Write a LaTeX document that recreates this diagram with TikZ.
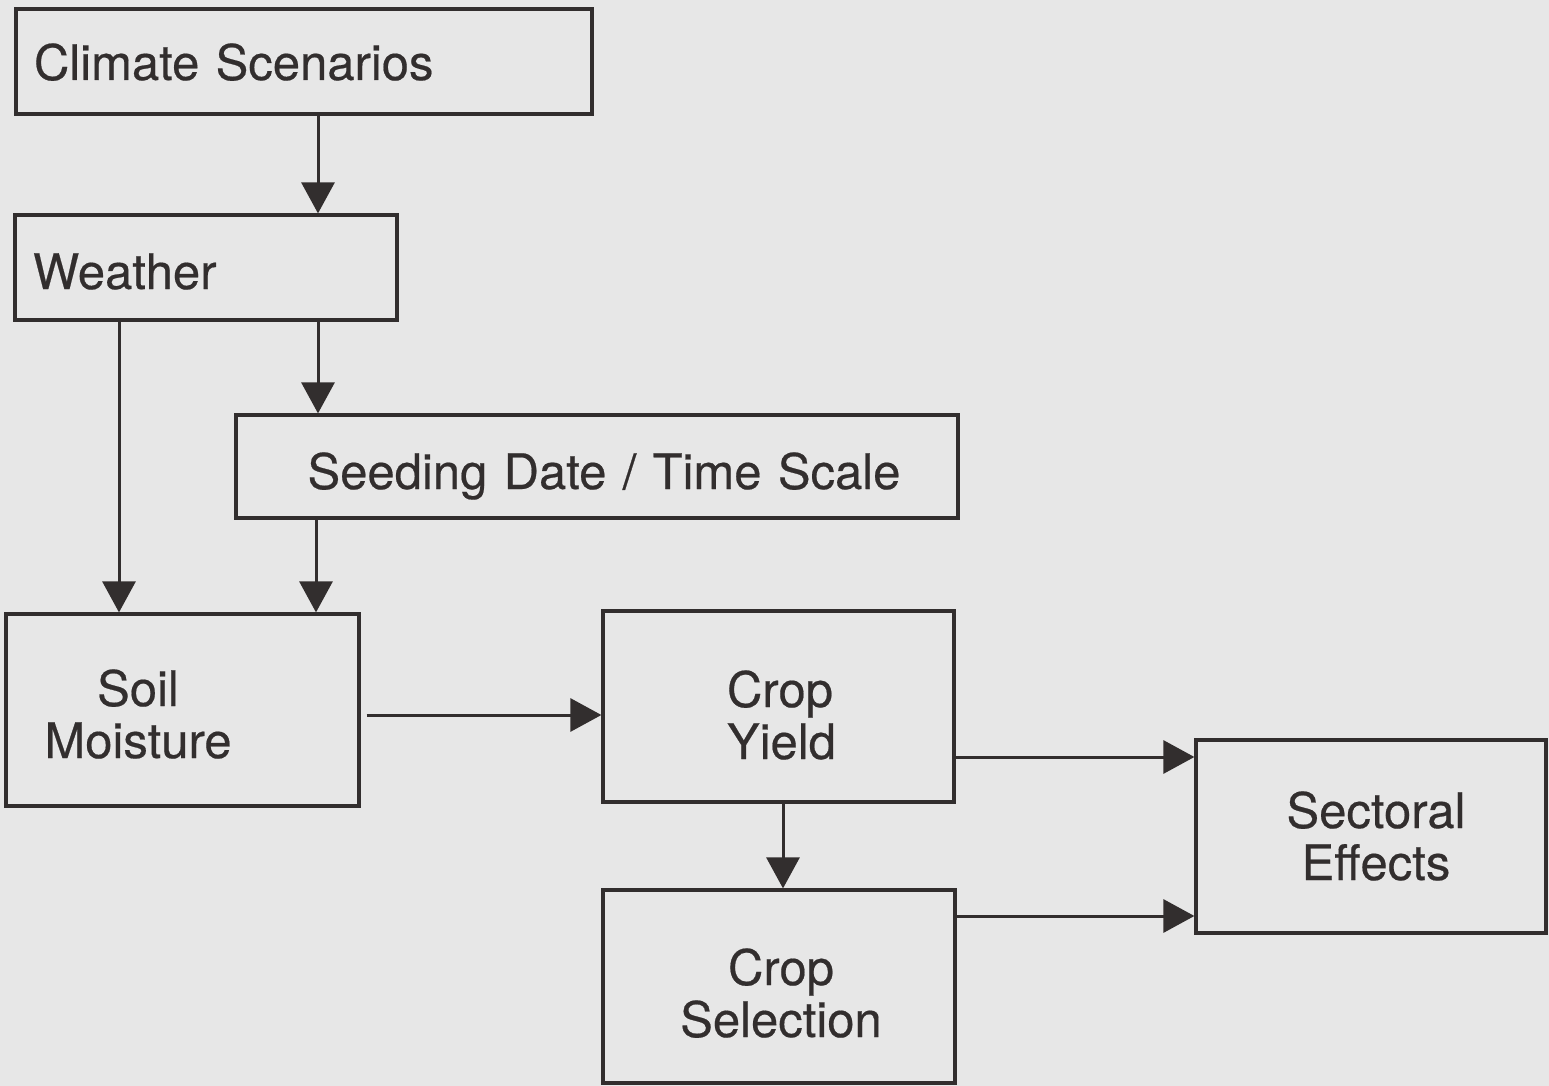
\documentclass[tikz,border=0pt]{standalone}
\usepackage{fontspec}
\setmainfont{TeX Gyre Heros}
\newfontfamily\heavyfont{TeX Gyre Heros}[FakeBold=0.4]
\usetikzlibrary{arrows.meta}
\definecolor{bg}{RGB}{231,231,231}
\definecolor{ink}{RGB}{50,46,46}
\begin{document}
\begin{tikzpicture}[x=0.5pt,y=-0.5pt,
  box/.style={draw=ink, fill=bg, line width=1.6pt, inner sep=0pt, text=ink,
    font=\heavyfont\fontsize{24.5}{26}\selectfont},
  arr/.style={draw=ink, line width=1.5pt, -{Triangle[length=15.5pt,width=16.5pt]}}]
\fill[bg] (0,0) rectangle (1549,1086);
\useasboundingbox (0,0) rectangle (1549,1086);

\node[box, minimum width=288pt, minimum height=52.5pt, text width=270pt, align=left,
  text height=18.5pt, text depth=0pt] (cs) at (304,61.5) {Climate Scenarios};
\node[box, minimum width=191pt, minimum height=52.5pt, text width=173pt, align=left,
  text height=21.5pt, text depth=0pt] (w) at (206,267.5) {Weather};
\node[box, minimum width=361pt, minimum height=51.5pt, text width=361pt, align=center,
  text height=22.5pt, text depth=0pt] (sd) at (597,466.5) {\hspace*{7pt}Seeding Date / Time Scale};
\node[box, minimum width=176.5pt, minimum height=96pt, text width=176.5pt, align=center,
  text height=10pt, text depth=14pt] (sm) at (182.5,710) {\hspace*{-44.5pt}Soil\\\hspace*{-44.5pt}Moisture};
\node[box, minimum width=175.5pt, minimum height=95.5pt, text width=175.5pt, align=left,
  text height=10pt, text depth=9.5pt] (cy) at (778.5,706.5) {\hspace*{62pt}Crop\\\hspace*{62pt}Yield};
\node[box, minimum width=176pt, minimum height=96.5pt, text width=176pt, align=center,
  text height=10pt, text depth=11.5pt] (csel) at (779,986.5) {\hspace*{2pt}Crop\\\hspace*{2pt}Selection};
\node[box, minimum width=175pt, minimum height=96.5pt, text width=175pt, align=center,
  text height=10pt, text depth=18.5pt] (se) at (1371,836.5) {\hspace*{5pt}Sectoral\\\hspace*{5pt}Effects};

\coordinate (a1) at (318,0);
\coordinate (a2) at (119,0);
\coordinate (a3) at (316,0);
\coordinate (a4) at (0,715);
\coordinate (a5) at (0,757);
\coordinate (a6) at (783,0);
\coordinate (a7) at (0,916);

\draw[arr] (cs.south -| a1) -- (w.north -| a1);
\draw[arr] (w.south -| a1) -- (sd.north -| a1);
\draw[arr] (w.south -| a2) -- (sm.north -| a2);
\draw[arr] (sd.south -| a3) -- (sm.north -| a3);
\draw[arr, shorten <=3pt] (sm.east |- a4) -- (cy.west |- a4);
\draw[arr] (cy.east |- a5) -- (se.west |- a5);
\draw[arr] (cy.south -| a6) -- (csel.north -| a6);
\draw[arr] (csel.east |- a7) -- (se.west |- a7);
\end{tikzpicture}
\end{document}
